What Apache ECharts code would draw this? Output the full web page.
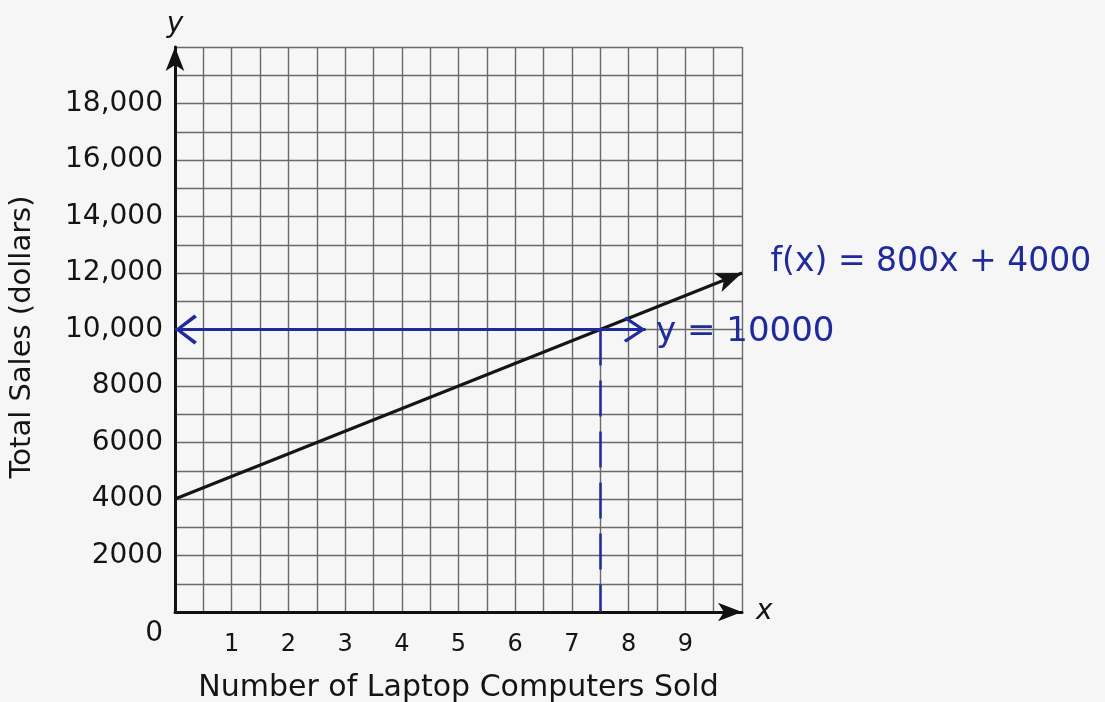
<!DOCTYPE html>
<html>
<head>
<meta charset="utf-8">
<script src="https://cdn.jsdelivr.net/npm/echarts@6/dist/echarts.min.js"></script>
<style>
  html, body { margin: 0; padding: 0; background: #f6f6f6; }
  #chart { width: 1105px; height: 702px; }
</style>
</head>
<body>
<div id="chart"></div>
<script>
// ---- data ----
const xRange = [0, 10];
const yRange = [0, 20000];
const xTickValues = [1, 2, 3, 4, 5, 6, 7, 8, 9];
const xTickLabels = ['1', '2', '3', '4', '5', '6', '7', '8', '9'];
const yTickValues = [0, 2000, 4000, 6000, 8000, 10000, 12000, 14000, 16000, 18000];
const yTickLabels = ['0', '2000', '4000', '6000', '8000', '10,000', '12,000', '14,000', '16,000', '18,000'];
const xAxisTitle = 'Number of Laptop Computers Sold';
const yAxisTitle = 'Total Sales (dollars)';
// f(x) = 800x + 4000, drawn from x = 0 to x = 10
const fLineStart = [0, 4000];
const fLineEnd = [10, 12000];
const fLabel = 'f(x) = 800x + 4000';
// y = 10000 horizontal line
const hLineStart = [0, 10000];
const hLineEnd = [8.3, 10000];
const hLabel = 'y = 10000';
// intersection drop line
const vLineTop = [7.5, 10000];
const vLineBottom = [7.5, 0];

const BLUE = '#1f2a9c';
const INK = '#141414';
const FONT = 'DejaVu Sans';
const chevron = 'path://M50,0 L100,88 L91,100 L50,24 L9,100 L0,88 Z';

const chart = echarts.init(document.getElementById('chart'), null, { renderer: 'canvas' });

const option = {
  backgroundColor: '#f6f6f6',
  animation: false,
  grid: { left: 175, right: 363, top: 47, bottom: 90, containLabel: false, outerBoundsMode: 'none' },
  xAxis: [{
    type: 'value', min: xRange[0], max: xRange[1], interval: 0.5,
    name: xAxisTitle, nameLocation: 'middle', nameGap: 61,
    nameTextStyle: { fontFamily: FONT, fontSize: 30, color: INK },
    axisLine: { show: true, lineStyle: { color: '#111', width: 3 }, symbol: ['none', 'arrow'], symbolSize: [14, 24], symbolOffset: [0, 0] },
    axisTick: { show: false },
    axisLabel: {
      margin: 21, fontFamily: FONT, fontSize: 24, color: INK,
      formatter: v => { const i = xTickValues.indexOf(v); return i >= 0 ? xTickLabels[i] : ''; }
    },
    splitLine: { show: true, lineStyle: { color: '#6a6a6a', width: 1.4 } }
  }, {
    type: 'value', min: xRange[0], max: xRange[1], position: 'bottom',
    name: 'x', nameLocation: 'end', nameGap: 14,
    nameTextStyle: { fontFamily: FONT, fontSize: 28, fontStyle: 'italic', color: INK, verticalAlign: 'middle', padding: [0, 0, 4, 0] },
    axisLine: { show: false }, axisTick: { show: false }, axisLabel: { show: false }, splitLine: { show: false }
  }],
  yAxis: [{
    type: 'value', min: yRange[0], max: yRange[1], interval: 1000,
    name: yAxisTitle, nameLocation: 'middle', nameGap: 138,
    nameTextStyle: { fontFamily: FONT, fontSize: 29, color: INK, padding: [0, 15, 0, 0] },
    axisLine: { show: true, lineStyle: { color: '#111', width: 3 }, symbol: ['none', 'arrow'], symbolSize: [14, 24], symbolOffset: [0, 0] },
    axisTick: { show: false },
    axisLabel: {
      margin: 12, fontFamily: FONT, fontSize: 28, color: INK,
      formatter: v => {
        const i = yTickValues.indexOf(v);
        if (i < 0) return '';
        return v === 0 ? '{o|' + yTickLabels[i] + '}' : yTickLabels[i];
      },
      rich: { o: { fontFamily: FONT, fontSize: 28, color: INK, padding: [44, 0, 0, 0] } }
    },
    splitLine: { show: true, lineStyle: { color: '#6a6a6a', width: 1.4 } }
  }, {
    type: 'value', min: yRange[0], max: yRange[1], position: 'left',
    name: 'y', nameLocation: 'end', nameGap: 8,
    nameTextStyle: { fontFamily: FONT, fontSize: 28, fontStyle: 'italic', color: INK, align: 'center' },
    axisLine: { show: false }, axisTick: { show: false }, axisLabel: { show: false }, splitLine: { show: false }
  }],
  series: [{
    type: 'line',
    xAxisIndex: 0, yAxisIndex: 0,
    data: [],
    silent: true,
    markLine: {
      silent: true,
      animation: false,
      label: { show: false },
      emphasis: { disabled: true },
      data: [
        [
          { coord: fLineStart, symbol: 'none', lineStyle: { color: '#151515', width: 3, type: 'solid' } },
          { coord: fLineEnd, symbol: 'arrow', symbolSize: [15, 26] }
        ],
        [
          { coord: hLineStart, symbol: chevron, symbolSize: [30, 22], symbolOffset: [0, 11], lineStyle: { color: BLUE, width: 3, type: 'solid' } },
          { coord: hLineEnd, symbol: chevron, symbolSize: [26, 22], symbolOffset: [0, 11] }
        ],
        [
          { coord: vLineTop, symbol: 'none', lineStyle: { color: BLUE, width: 2.5, type: [36, 15] } },
          { coord: vLineBottom, symbol: 'none' }
        ]
      ]
    },
    markPoint: {
      silent: true,
      animation: false,
      symbol: 'circle', symbolSize: 1,
      itemStyle: { color: 'rgba(0,0,0,0)' },
      data: [
        { coord: fLineEnd, label: { show: true, formatter: fLabel, position: 'right', distance: 0, offset: [28, -11], fontFamily: FONT, fontSize: 33, color: BLUE } },
        { coord: hLineEnd, label: { show: true, formatter: hLabel, position: 'right', distance: 0, offset: [10, 3], fontFamily: FONT, fontSize: 34, color: BLUE } }
      ]
    }
  }]
};

chart.setOption(option);
</script>
</body>
</html>
